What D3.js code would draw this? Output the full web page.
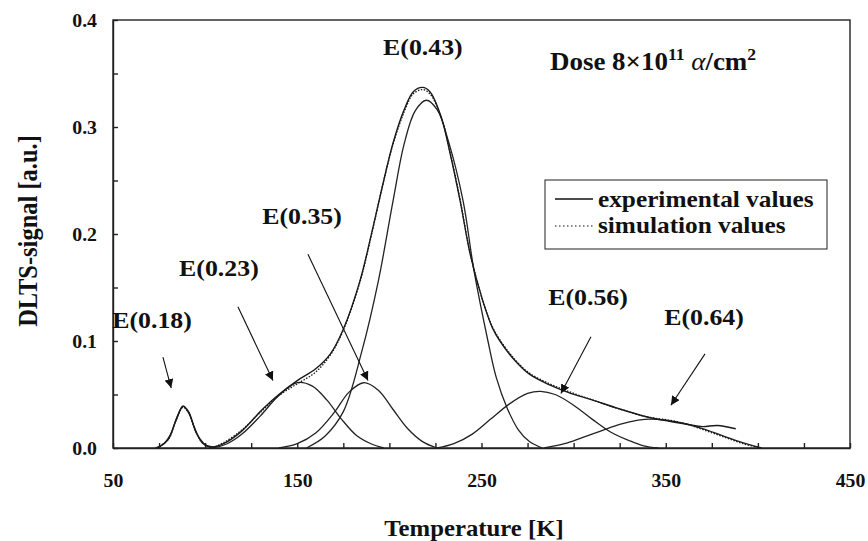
<!DOCTYPE html>
<html>
<head>
<meta charset="utf-8">
<script src="https://cdn.jsdelivr.net/npm/d3@7"></script>
<style>
  body { margin: 0; background: #fff; }
  svg text { font-family: 'Liberation Serif', 'Times New Roman', Times, serif; font-weight: bold; fill: #111; }
</style>
</head>
<body>
<div id="chart"></div>
<script>
// Values: [temperature K, DLTS signal a.u.]
const experimental = [
    [74, 0], [80, 0.008], [84, 0.025], [88, 0.039], [91, 0.034], [95, 0.015], [99, 0.004],
    [104, 0.001], [110, 0.004], [120, 0.016], [131, 0.036], [140, 0.05], [150, 0.063],
    [160, 0.074], [168, 0.088], [175, 0.111], [184, 0.156], [190, 0.198], [196, 0.243],
    [202, 0.285], [208, 0.316], [213, 0.333], [218, 0.337], [222, 0.333], [228, 0.31],
    [233, 0.275], [238.4, 0.231], [244, 0.18], [250.8, 0.137], [256, 0.112], [260, 0.1],
    [268, 0.082], [276, 0.069], [287, 0.059], [297, 0.052], [310, 0.045], [324, 0.037],
    [340, 0.029], [352, 0.025], [362, 0.022], [370, 0.02], [378, 0.021], [388, 0.018]
];
const simulation = [
    [74, 0], [80, 0.008], [84, 0.025], [88, 0.038], [91, 0.033], [95, 0.015], [99, 0.004],
    [104, 0.001], [110, 0.005], [120, 0.017], [131, 0.035], [140, 0.049], [150, 0.06],
    [160, 0.071], [168, 0.087], [175, 0.11], [184, 0.155], [190, 0.197], [196, 0.243],
    [202, 0.284], [208, 0.314], [213, 0.331], [218, 0.335], [222, 0.331], [228, 0.31],
    [233, 0.276], [238.4, 0.232], [244, 0.181], [250.8, 0.137], [256, 0.113], [260, 0.101],
    [268, 0.083], [276, 0.07], [287, 0.06], [297, 0.053], [310, 0.045], [324, 0.037],
    [340, 0.029], [352, 0.026], [362, 0.022], [372, 0.016], [382, 0.01], [392, 0.004], [402, 0]
];
const peakE018 = [[73, 0], [77, 0.003], [81, 0.012], [85, 0.03], [88, 0.039], [91, 0.033],
    [94, 0.02], [97, 0.009], [101, 0.002], [106, 0]];
const peakE023 = [[104, 0], [112, 0.004], [120, 0.013], [130, 0.03], [140, 0.049], [150, 0.061],
    [158, 0.058], [166, 0.045], [174, 0.027], [182, 0.012], [190, 0.004], [197, 0]];
const peakE035 = [[140, 0], [150, 0.004], [160, 0.014], [170, 0.033], [178, 0.052], [186, 0.061],
    [194, 0.054], [202, 0.036], [210, 0.018], [218, 0.006], [226, 0]];
const peakE043 = [[155, 0], [165, 0.011], [175, 0.034], [185, 0.09], [194, 0.156], [202, 0.231],
    [208, 0.284], [214, 0.315], [220, 0.325], [226, 0.316], [232, 0.287], [240, 0.231],
    [246, 0.165], [253.5, 0.1], [258, 0.066], [264, 0.037], [270, 0.017], [276, 0.006], [283, 0]];
const peakE056 = [[226, 0], [235, 0.004], [245, 0.013], [255, 0.027], [265, 0.041], [275, 0.051],
    [282, 0.053], [290, 0.05], [300, 0.04], [310, 0.027], [320, 0.015], [330, 0.007],
    [338, 0.002], [346, 0]];
const peakE064 = [[284, 0], [295, 0.004], [305, 0.01], [315, 0.016], [325, 0.022], [335, 0.026],
    [342, 0.027], [350, 0.026], [360, 0.023], [370, 0.018], [380, 0.012], [390, 0.006], [402, 0]];

const peakNames = ["E(0.18)", "E(0.23)", "E(0.35)", "E(0.43)", "E(0.56)", "E(0.64)"];
const xTickLabels = [50, 150, 250, 350, 450];
const yTickLabels = [0.0, 0.1, 0.2, 0.3, 0.4];
const legendNames = ["experimental values", "simulation values"];

const width = 868;
const height = 541;
const margin = { top: 20, right: 18, bottom: 93, left: 113 };
const serif = "'Liberation Serif', 'Times New Roman', Times, serif";
const wide = 1.1; // the scanned lettering is a little wider than tall

const svg = d3.select('#chart')
    .append('svg')
    .attr('width', width)
    .attr('height', height);

svg.append('rect').attr('width', width).attr('height', height).attr('fill', '#fff');

const xScale = d3.scaleLinear()
    .domain([50, 450])
    .range([margin.left, width - margin.right]);

const yScale = d3.scaleLinear()
    .domain([0, 0.4])
    .range([height - margin.bottom, margin.top]);

// place a text at (x, y) with the horizontal stretch
function put(sel, x, y) {
    return sel.attr('x', 0).attr('y', 0)
        .attr('transform', `translate(${x},${y}) scale(${wide},1)`);
}

// Axes: minor ticks inward, labels only on the major values
const xAxis = d3.axisBottom(xScale)
    .tickValues(d3.range(50, 451, 25))
    .tickSizeInner(-5)
    .tickSizeOuter(0)
    .tickFormat(d => xTickLabels.includes(d) ? d : '');

const yAxis = d3.axisLeft(yScale)
    .tickValues(d3.range(0, 0.401, 0.05))
    .tickSizeInner(-5)
    .tickSizeOuter(0)
    .tickFormat(d => {
        const hit = yTickLabels.find(v => Math.abs(v - d) < 1e-6);
        return hit !== undefined ? d3.format('.1f')(hit) : '';
    });

const gx = svg.append('g')
    .attr('transform', `translate(0,${yScale(0)})`)
    .call(xAxis)
    .attr('font-family', serif);
gx.selectAll('text').attr('dy', null).style('font-size', '18px');
put(gx.selectAll('text'), 0, 39);

const gy = svg.append('g')
    .attr('transform', `translate(${xScale(50)},0)`)
    .call(yAxis)
    .attr('font-family', serif);
gy.selectAll('text').attr('dy', null).style('font-size', '18px');
put(gy.selectAll('text'), -16, 6);

svg.selectAll('.domain, .tick line').attr('stroke', '#222').attr('stroke-width', 1.4);

// frame top and right
svg.append('rect')
    .attr('x', xScale(50))
    .attr('y', yScale(0.4))
    .attr('width', xScale(450) - xScale(50))
    .attr('height', yScale(0) - yScale(0.4))
    .attr('fill', 'none')
    .attr('stroke', '#222')
    .attr('stroke-width', 1.4);

// Axis titles
put(svg.append('text'), 474, 536)
    .attr('text-anchor', 'middle')
    .style('font-size', '22.5px')
    .text('Temperature [K]');

svg.append('text')
    .attr('transform', `translate(37,231) rotate(-90) scale(1,${wide})`)
    .attr('text-anchor', 'middle')
    .style('font-size', '24.5px')
    .text('DLTS-signal [a.u.]');

// Curves
const line = d3.line()
    .x(d => xScale(d[0]))
    .y(d => yScale(d[1]))
    .curve(d3.curveCatmullRom.alpha(0.5));

[peakE018, peakE023, peakE035, peakE043, peakE056, peakE064].forEach(series => {
    svg.append('path')
        .datum(series)
        .attr('d', line)
        .attr('fill', 'none')
        .attr('stroke', '#222')
        .attr('stroke-width', 1.3);
});

svg.append('path')
    .datum(experimental)
    .attr('d', line)
    .attr('fill', 'none')
    .attr('stroke', '#1a1a1a')
    .attr('stroke-width', 1.4);

svg.append('path')
    .datum(simulation)
    .attr('d', line)
    .attr('fill', 'none')
    .attr('stroke', '#1a1a1a')
    .attr('stroke-width', 1.3)
    .attr('stroke-dasharray', '1.5,1.5');

// Peak labels and arrows (positions in data units)
const labelPos = [[71.2, 0.112], [107.5, 0.161], [152.6, 0.209], [218.2, 0.367], [307.8, 0.134], [370.8, 0.115]];
const arrowPos = [
    [[77.1, 0.085], [81.6, 0.056]],
    [[117.8, 0.132], [136.8, 0.063]],
    [[155.8, 0.181], [188.4, 0.063]],
    null,
    [[309.4, 0.104], [293.1, 0.051]],
    [[371.3, 0.088], [352.8, 0.040]]
];

svg.append('defs').append('marker')
    .attr('id', 'arrow')
    .attr('viewBox', '0 0 10 10')
    .attr('refX', 10)
    .attr('refY', 5)
    .attr('markerWidth', 9)
    .attr('markerHeight', 9)
    .attr('markerUnits', 'userSpaceOnUse')
    .attr('orient', 'auto')
    .append('path')
    .attr('d', 'M0,0 L10,5 L0,10 Z')
    .attr('fill', '#111');

peakNames.forEach((name, i) => {
    put(svg.append('text'), xScale(labelPos[i][0]), yScale(labelPos[i][1]))
        .attr('text-anchor', 'middle')
        .style('font-size', '23.5px')
        .text(name);
    if (arrowPos[i]) {
        svg.append('line')
            .attr('x1', xScale(arrowPos[i][0][0]))
            .attr('y1', yScale(arrowPos[i][0][1]))
            .attr('x2', xScale(arrowPos[i][1][0]))
            .attr('y2', yScale(arrowPos[i][1][1]))
            .attr('stroke', '#111')
            .attr('stroke-width', 1.1)
            .attr('marker-end', 'url(#arrow)');
    }
});

// Dose annotation
const dose = put(svg.append('text'), 550, 70)
    .style('font-size', '24.5px');
dose.append('tspan').text('Dose 8×10');
dose.append('tspan').attr('dy', -10).style('font-size', '16px').text('11');
dose.append('tspan').attr('dy', 10).text(' ');
dose.append('tspan').style('font-style', 'italic').style('font-weight', 'normal').text('α');
dose.append('tspan').text('/cm');
dose.append('tspan').attr('dy', -10).style('font-size', '16px').text('2');

// Legend
const legend = svg.append('g').attr('transform', 'translate(545,180)');
legend.append('rect')
    .attr('width', 282)
    .attr('height', 69)
    .attr('fill', '#fff')
    .attr('stroke', '#333')
    .attr('stroke-width', 1.1);

legendNames.forEach((name, i) => {
    legend.append('line')
        .attr('x1', 10)
        .attr('x2', 48)
        .attr('y1', 19 + i * 27)
        .attr('y2', 19 + i * 27)
        .attr('stroke', '#111')
        .attr('stroke-width', i === 0 ? 1.4 : 1.2)
        .attr('stroke-dasharray', i === 0 ? null : '1.5,2.5');
    put(legend.append('text'), 53, 27 + i * 26)
        .style('font-size', '23px')
        .text(name);
});
</script>
</body>
</html>
